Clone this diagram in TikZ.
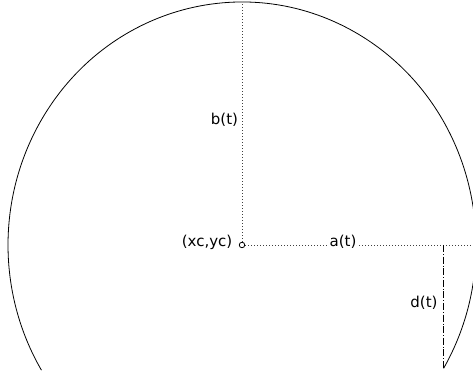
\documentclass[tikz,border=0pt]{standalone}
\usepackage{fontspec}
\setmainfont{DejaVu Sans}
\usetikzlibrary{calc}
\tikzset{
  lbl/.style={font=\fontsize{15}{18}\selectfont, inner sep=1pt},
  guide/.style={line width=0.6pt, dash pattern=on 0.6pt off 2.4pt, black!75},
  dashdot/.style={line width=0.6pt, dash pattern=on 7pt off 2pt on 0.6pt off 2pt}
}
\begin{document}
\begin{tikzpicture}[x=1pt,y=1pt]
  \useasboundingbox (0,0) rectangle (473,377);
  \clip (0,0) rectangle (473,377);
  % centre point
  \node[circle, draw, line width=0.8pt, inner sep=0pt, minimum size=5.5pt] (ctr) at (242,132) {};
  \coordinate (top) at ($(ctr)+(0,243)$);
  \coordinate (right) at ($(ctr)+(240,0)$);
  \coordinate (tip) at ($(ctr)+(-30.5:234pt and 243pt)$);
  \coordinate (foot) at (tip |- ctr);
  % arc a(t), b(t)
  \draw[line width=0.8pt] (tip) arc[start angle=-30.5, end angle=211, x radius=234, y radius=243];
  % guides
  \draw[guide] (ctr) -- (top);
  \draw[guide] (ctr) -- (right);
  \draw[dashdot] (foot) -- (tip);
  % labels
  \node[lbl] (lc) at (207,135) {(xc,yc)};
  \node[lbl] (lb) at (224.5,257) {b(t)};
  \node[lbl, fill=white] (la) at (343,135) {a(t)};
  \node[lbl] (ld) at (424,74) {d(t)};
\end{tikzpicture}
\end{document}
